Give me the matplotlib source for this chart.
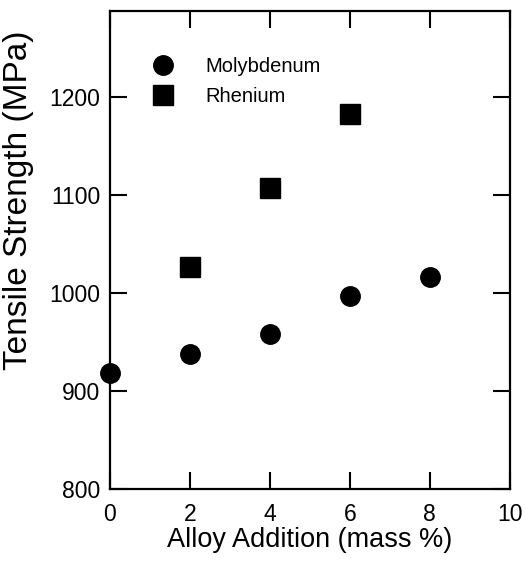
import matplotlib
matplotlib.use("Agg")
import matplotlib.pyplot as plt

plt.rcParams['font.family'] = ['Liberation Sans', 'DejaVu Sans']

# alloy addition (mass %) and tensile strength (MPa)
mo_x = [0, 2, 4, 6, 8]
mo_y = [919, 938, 958, 997, 1017]
re_x = [2, 4, 6]
re_y = [1027, 1107, 1183]

xticks = [0, 2, 4, 6, 8, 10]
yticks = [800, 900, 1000, 1100, 1200]

fig = plt.figure(figsize=(5.25, 5.61), dpi=100)
ax = fig.add_axes([0.2095, 0.1283, 0.7615, 0.8517])

ax.plot(mo_x, mo_y, 'o', color='black', ms=14, clip_on=False, label='Molybdenum')
ax.plot(re_x, re_y, 's', color='black', ms=14, clip_on=False, label='Rhenium')

ax.set_xlim(0, 10)
ax.set_ylim(800, 1288)
ax.set_xticks(xticks)
ax.set_yticks(yticks)
ax.tick_params(direction='in', length=12, width=1.5, labelsize=16.5,
               top=True, right=True)
ax.tick_params(axis='x', pad=10)
ax.tick_params(axis='y', pad=7)
for s in ax.spines.values():
    s.set_linewidth(1.6)

ax.set_xlabel('Alloy Addition (mass %)', fontsize=19.5, labelpad=1)
ax.set_ylabel('Tensile Strength (MPa)', fontsize=24)
ax.yaxis.set_label_coords(-0.19, 0.605)

leg = ax.legend(loc='upper left', bbox_to_anchor=(0.0925, 0.904), frameon=False,
                fontsize=14.5, numpoints=1, handlelength=1.6, handletextpad=1.3,
                borderpad=0, borderaxespad=0, labelspacing=0.55)

fig.savefig('out.png', dpi=100)
